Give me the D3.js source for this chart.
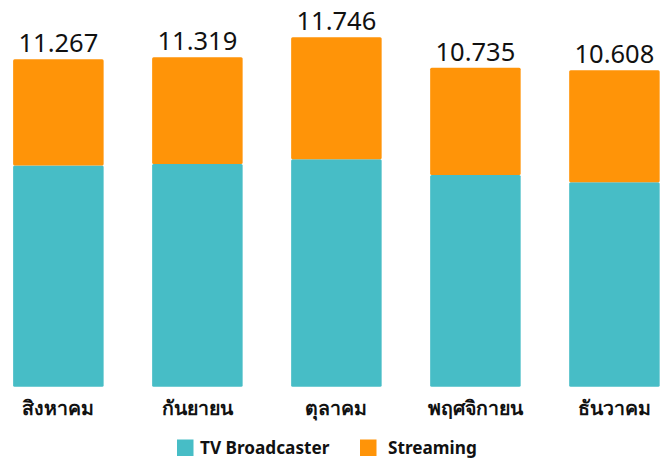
<!DOCTYPE html>
<html>
<head>
<meta charset="utf-8">
<script src="https://cdn.jsdelivr.net/npm/d3@7"></script>
<style>
  body { margin: 0; background: #fff; }
  svg { display: block; font-family: "Noto Sans", "DejaVu Sans", sans-serif; }
</style>
</head>
<body>
<div id="chart"></div>
<script>
/* Stacked bars: TV broadcaster vs streaming by month */

const months = ["สิงหาคม", "กันยายน", "ตุลาคม", "พฤศจิกายน", "ธันวาคม"];
const tv = [7.63, 7.68, 7.84, 7.30, 7.05];
const streaming = [3.66, 3.68, 4.21, 3.70, 3.86];
const totals = ["11.267", "11.319", "11.746", "10.735", "10.608"];
const seriesNames = ["TV Broadcaster", "Streaming"];

const width = 669,
    height = 460,
    bottom = 386.7;

const colors = ["#47bdc6", "#ff9408"];

let data = months.map((m, i) => ({month: m, tv: tv[i], streaming: streaming[i], label: totals[i]}));

let svg = d3.select("#chart")
    .append("svg")
    .attr("width", width)
    .attr("height", height);

let x = d3.scaleBand()
    .domain(months)
    .range([-11.2, 684])
    .paddingInner(0.349)
    .paddingOuter(0.175);

let y = d3.scaleLinear()
    .domain([0, 12])
    .range([bottom, bottom - 12 * 29]);

let stack = d3.stack().keys(["tv", "streaming"])(data);

svg.selectAll(".layer")
    .data(stack)
    .join("g")
    .attr("class", "layer")
    .attr("fill", (d, i) => colors[i])
    .selectAll("rect")
    .data(d => d)
    .join("rect")
    .attr("x", d => x(d.data.month))
    .attr("width", x.bandwidth())
    .attr("y", d => y(d[1]))
    .attr("height", d => y(d[0]) - y(d[1]))
    .attr("rx", 1.5);

// totals on top
svg.selectAll(".total")
    .data(data)
    .join("text")
    .attr("class", "total")
    .attr("x", d => x(d.month) + x.bandwidth() / 2)
    .attr("y", d => y(d.tv + d.streaming) - 7)
    .attr("text-anchor", "middle")
    .attr("font-size", 25.5)
    .attr("fill", "#111")
    .text(d => d.label);

// x axis labels
const xAxis = g => g
    .attr("transform", `translate(0,${bottom})`)
    .call(d3.axisBottom(x).tickSize(0).tickPadding(14.5))
    .call(g => g.select(".domain").remove())
    .call(g => g.selectAll("text")
        .attr("font-size", 19.5)
        .attr("font-weight", "bold")
        .attr("font-family", "\"Noto Sans\", sans-serif")
        .attr("fill", "#111"));

svg.append("g").call(xAxis);

// legend
const legendX = [177, 360],
    legendTextX = [23, 28];
let legend = svg.selectAll(".legend")
    .data(seriesNames)
    .join("g")
    .attr("class", "legend")
    .attr("transform", (d, i) => `translate(${legendX[i]},439.5)`);

legend.append("rect")
    .attr("width", 16.5)
    .attr("height", 16.5)
    .attr("fill", (d, i) => colors[i]);

legend.append("text")
    .attr("x", (d, i) => legendTextX[i])
    .attr("y", 14)
    .attr("font-size", 17.2)
    .attr("font-weight", "bold")
    .attr("fill", "#111")
    .text(d => d);
</script>
</body>
</html>
